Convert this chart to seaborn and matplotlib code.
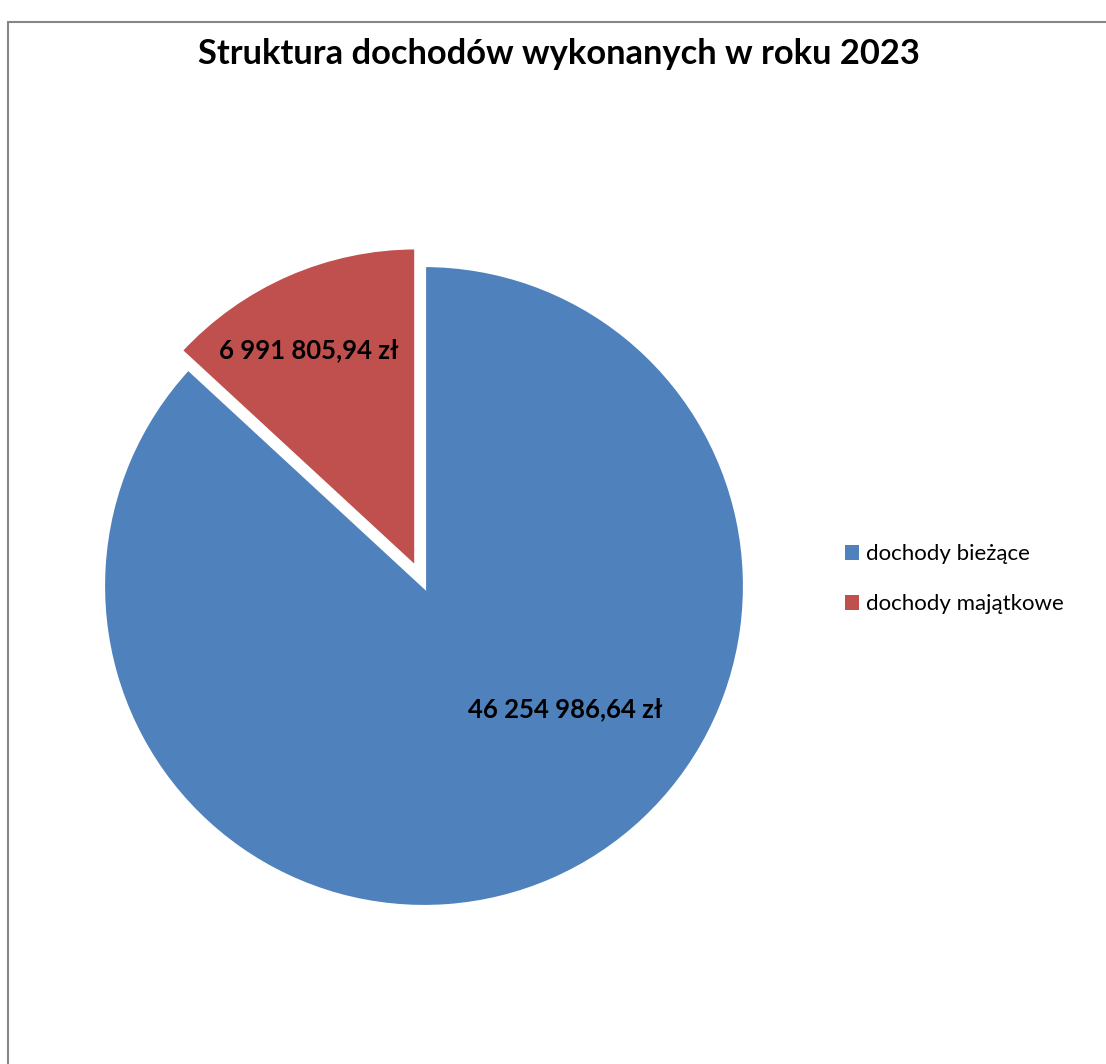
import numpy as np
import seaborn as sns
import matplotlib.pyplot as plt
from matplotlib.patches import Rectangle, Patch

# data
categories = ["dochody bieżące", "dochody majątkowe"]
values = [46254986.64, 6991805.94]
value_labels = ["46 254 986,64 zł", "6 991 805,94 zł"]
explode = [0.0, 0.06]
title = "Struktura dochodów wykonanych w roku 2023"

sns.set_theme(style="white")
plt.rcParams['font.family'] = ['Lato', 'DejaVu Sans']
plt.rcParams['text.color'] = 'black'

colors = ["#4F81BD", "#C0504D"]

W, H = 1106, 1064
fig = plt.figure(figsize=(W / 100, H / 100), dpi=100)

# chart frame (runs off the right and bottom edges)
fig.patches.append(Rectangle((8 / W, -0.1), 1.2, 1 - 22 / H + 0.1, transform=fig.transFigure,
                             fill=False, edgecolor="#868686", linewidth=1.5))

# pie centre at (424, 586) px, radius 321 px
r_px = 321
lim = 1.2
size = 2 * lim * r_px
ax = fig.add_axes([(424 - size / 2) / W, (H - 586 - size / 2) / H, size / W, size / H])

wedges, _ = ax.pie(values, colors=colors, startangle=90, counterclock=False,
                   explode=explode, wedgeprops=dict(edgecolor="white", linewidth=3))
ax.set_xlim(-lim, lim)
ax.set_ylim(-lim, lim)
ax.axis("off")

# data labels (positions in pie-radius units)
label_pos = [(0.44, -0.385), (-0.36, 0.735)]
for (x, y), txt in zip(label_pos, value_labels):
    ax.text(x, y, txt, ha="center", va="center", fontsize=18.5, fontweight="bold", color="black")

fig.text(559 / W, 1 - 54 / H, title, ha="center", va="center", fontsize=24.8,
         fontweight="bold", color="black")

handles = [Patch(facecolor=c, edgecolor="none") for c in colors]
fig.legend(handles, categories, loc="center left", bbox_to_anchor=(825 / W, 1 - 579.5 / H),
           frameon=False, fontsize=16, handlelength=0.65, handleheight=0.65,
           handletextpad=0.3, labelspacing=1.35, labelcolor="black")

fig.savefig("out.png", dpi=100, facecolor="white")
